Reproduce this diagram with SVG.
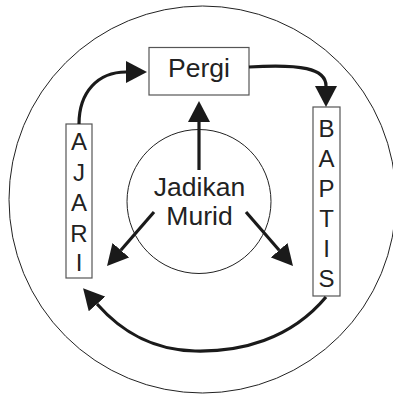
<svg xmlns="http://www.w3.org/2000/svg" width="393" height="396" viewBox="0 0 393 396">
<defs>
<style>
.ring{fill:none;stroke:#222;stroke-width:1}
.box{fill:#fff;stroke:#555;stroke-width:1.2}
.lbl{font-family:"Liberation Sans",Arial,sans-serif;font-size:26.5px;fill:#222;text-anchor:middle}
.vl{font-family:"Liberation Sans",Arial,sans-serif;font-size:24px;fill:#222;text-anchor:middle}
.arr{fill:none;stroke:#1a1a1a;stroke-width:3.2;marker-end:url(#ah)}
</style>
<marker id="ah" viewBox="0 -11 21 22" markerWidth="21" markerHeight="22" refX="0" refY="0" markerUnits="userSpaceOnUse" orient="auto">
<path d="M0,-11 L21,0 L0,11 z" fill="#1a1a1a"/>
</marker>
</defs>
<rect width="393" height="396" fill="#fff"/>
<circle class="ring" cx="202.5" cy="199.5" r="193.5"/>
<g id="center">
<circle class="ring" cx="199" cy="201.5" r="72"/>
<text class="lbl" x="199.5" y="196">Jadikan</text>
<text class="lbl" x="199.5" y="225">Murid</text>
</g>
<g id="pergi">
<rect class="box" x="149" y="47.5" width="100" height="47.5"/>
<text class="lbl" x="199" y="77">Pergi</text>
</g>
<g id="ajari">
<rect class="box" x="66" y="124" width="26" height="154"/>
<text class="vl" x="79" y="150">A</text>
<text class="vl" x="79" y="180.5">J</text>
<text class="vl" x="79" y="211">A</text>
<text class="vl" x="79" y="241.5">R</text>
<text class="vl" x="79" y="271">I</text>
</g>
<g id="baptis">
<rect class="box" x="313" y="107" width="27" height="189"/>
<text class="vl" x="326.5" y="137">B</text>
<text class="vl" x="326.5" y="167">A</text>
<text class="vl" x="326.5" y="197">P</text>
<text class="vl" x="326.5" y="227">T</text>
<text class="vl" x="326.5" y="257">I</text>
<text class="vl" x="326.5" y="287">S</text>
</g>
<g id="connectors">
<path class="arr" d="M199,170 L199,122"/>
<path class="arr" d="M154,212 L120.8,250.2"/>
<path class="arr" d="M246,212 L279.2,250.2"/>
<path class="arr" d="M79,124 C79,92 98,72 126,72"/>
<path class="arr" d="M249,67 C300,64 326,68 326,86"/>
<path class="arr" d="M326,297 C290,340 240,352 195,351 C150,350 120,330 97,304"/>
</g>
</svg>
